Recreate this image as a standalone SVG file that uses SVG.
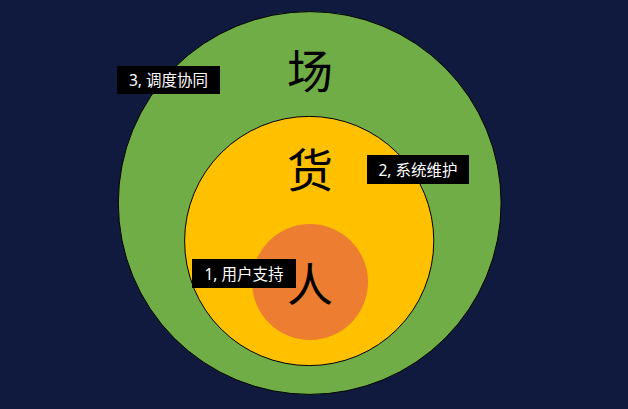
<svg xmlns="http://www.w3.org/2000/svg" width="628" height="409" viewBox="0 0 628 409">
<style>
.ring{stroke:#000;stroke-width:1}
.big{font-family:"Noto Sans CJK SC","Noto Sans",sans-serif;font-size:46px;fill:#000;text-anchor:middle;dominant-baseline:central}
.lbl{fill:#000}
.lt{font-family:"Noto Sans","Noto Sans CJK SC",sans-serif;font-size:15.5px;fill:#fff;text-anchor:middle;dominant-baseline:central}
</style>
<rect width="628" height="409" fill="#0F1A3E"/>
<g id="outer">
<circle class="ring" cx="309.7" cy="203" r="191.4" fill="#70AD47"/>
<text class="big" x="310" y="68">场</text>
</g>
<g id="middle">
<circle class="ring" cx="309.2" cy="241" r="124.6" fill="#FFC000"/>
<text class="big" x="310" y="167">货</text>
</g>
<g id="inner">
<circle cx="310" cy="282" r="58" fill="#ED7D31"/>
<text class="big" x="310" y="281">人</text>
</g>
<g id="label3">
<rect class="lbl" x="117" y="66" width="103" height="28"/>
<text class="lt" x="168.5" y="80">3, 调度协同</text>
</g>
<g id="label2">
<rect class="lbl" x="367" y="155" width="102" height="29"/>
<text class="lt" x="418" y="169.5">2, 系统维护</text>
</g>
<g id="label1">
<rect class="lbl" x="192" y="259" width="104" height="29"/>
<text class="lt" x="244" y="273.5">1, 用户支持</text>
</g>
<g id="connectors"></g>
</svg>
